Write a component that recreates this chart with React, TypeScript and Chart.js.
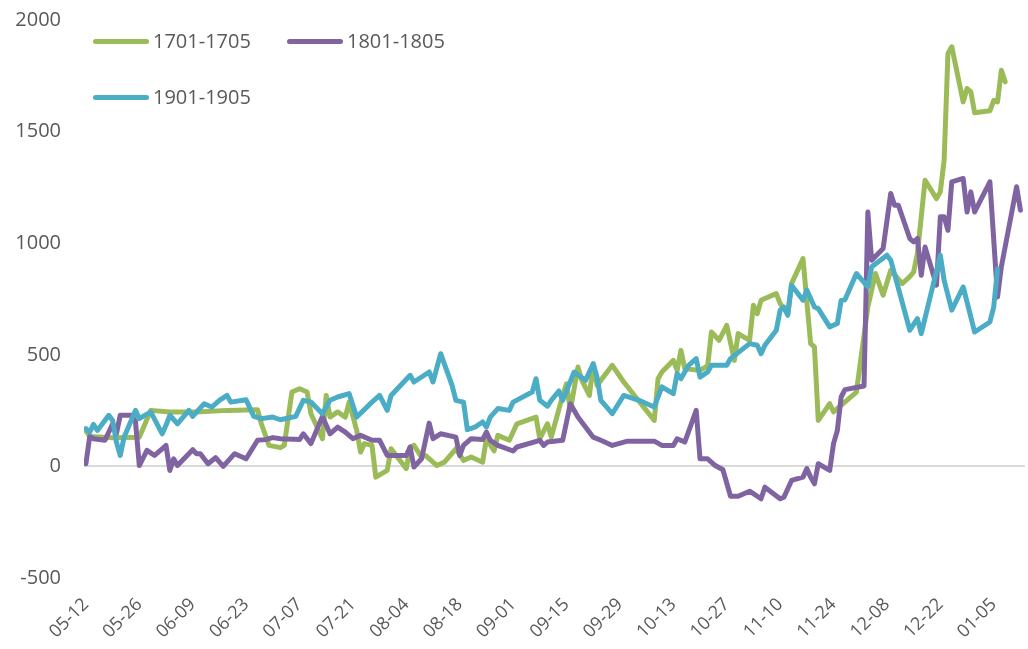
import React, { useEffect, useRef } from 'react';
import { Chart, registerables } from 'chart.js';

Chart.register(...registerables);

// x tick labels, one every 14 days starting at 05-12 (day 0)
const tickLabels = ['05-12', '05-26', '06-09', '06-23', '07-07', '07-21', '08-04', '08-18', '09-01', '09-15', '09-29', '10-13', '10-27', '11-10', '11-24', '12-08', '12-22', '01-05'];
const tickStep = 14;
const xMin = -0.5;
const xMax = 246.2;

const seriesNames = ['1701-1705', '1801-1805', '1901-1905'];
const seriesColors = ['#9BBB59', '#8064A2', '#4BACC6'];

// 1701-1705 (days since 05-12, values)
const s1701Days = [0, 1, 7, 14, 17, 22, 29, 37, 45, 46, 48, 51, 52, 54, 56, 58, 59, 62, 63, 64, 66, 68, 69, 71, 72, 73, 75, 76, 79, 80, 82, 84, 85, 86, 88, 89, 91, 92, 94, 97, 99, 101, 104, 105, 107, 108, 111, 113, 118, 119, 121, 122, 125, 126, 127, 129, 130, 132, 133, 134, 138, 141, 149, 150, 151, 154, 155, 156, 157, 161, 163, 164, 166, 168, 170, 171, 174, 175, 176, 177, 178, 181, 182, 184, 185, 188, 190, 191, 192, 195, 196, 202, 205, 207, 209, 211, 214, 216, 217, 218, 220, 223, 224, 225, 226, 227, 230, 231, 232, 233, 237, 238, 239, 240, 241];
const s1701Values = [161, 134, 128, 131, 251, 244, 244, 251, 254, 191, 94, 84, 94, 333, 348, 333, 236, 124, 318, 221, 244, 221, 288, 161, 64, 102, 94, -48, -18, 79, 34, -10, 87, 94, 42, 49, 19, 4, 19, 79, 27, 42, 19, 124, 70, 139, 117, 191, 221, 124, 191, 131, 318, 370, 251, 445, 386, 318, 460, 363, 453, 378, 206, 393, 423, 475, 430, 520, 438, 430, 450, 602, 565, 632, 475, 595, 565, 722, 684, 744, 752, 774, 730, 684, 819, 931, 550, 535, 206, 281, 244, 333, 714, 864, 767, 879, 819, 850, 871, 954, 1282, 1200, 1230, 1372, 1850, 1880, 1633, 1693, 1678, 1584, 1593, 1640, 1633, 1775, 1723];

// 1801-1805
const s1801Days = [0, 1, 2, 5, 7, 8, 9, 12, 13, 14, 16, 18, 20, 21, 22, 23, 24, 28, 29, 30, 32, 34, 36, 39, 42, 45, 47, 49, 51, 56, 57, 59, 62, 64, 66, 68, 70, 72, 75, 77, 79, 84, 85, 86, 88, 90, 91, 93, 97, 98, 99, 101, 104, 105, 106, 108, 112, 113, 119, 120, 121, 125, 127, 129, 133, 135, 138, 142, 149, 151, 154, 155, 157, 160, 161, 163, 165, 167, 169, 171, 174, 177, 178, 182, 183, 185, 188, 189, 190, 191, 192, 195, 196, 197, 198, 199, 204, 205, 206, 209, 211, 212, 213, 216, 217, 218, 219, 220, 223, 224, 225, 226, 227, 230, 231, 232, 233, 237, 239, 240, 244, 245];
const s1801Values = [12, 134, 124, 117, 190, 146, 229, 229, 200, 4, 72, 49, 79, 94, -18, 34, 4, 75, 57, 57, 12, 39, 0, 57, 34, 117, 120, 129, 124, 120, 146, 102, 224, 146, 176, 154, 124, 139, 117, 117, 49, 49, 87, -3, 34, 194, 124, 146, 131, 49, 94, 124, 120, 154, 117, 94, 69, 87, 117, 94, 109, 117, 281, 221, 131, 117, 94, 113, 113, 94, 94, 124, 109, 251, 34, 34, 4, -15, -134, -134, -111, -145, -93, -145, -138, -63, -48, -10, -48, -78, 12, -18, 102, 161, 311, 344, 360, 1140, 924, 976, 1223, 1170, 1170, 1021, 1006, 1021, 856, 983, 812, 1118, 1118, 1058, 1275, 1290, 1140, 1230, 1140, 1275, 759, 894, 1253, 1148];

// 1901-1905
const s1901Days = [0, 1, 2, 3, 6, 7, 8, 9, 10, 13, 14, 17, 20, 21, 22, 24, 27, 28, 31, 33, 35, 37, 38, 42, 44, 46, 49, 51, 55, 57, 59, 62, 64, 66, 69, 71, 75, 77, 79, 80, 85, 86, 90, 91, 93, 96, 97, 99, 100, 102, 104, 105, 106, 108, 111, 112, 117, 118, 119, 121, 122, 124, 125, 128, 131, 133, 134, 135, 138, 141, 145, 149, 151, 154, 155, 156, 158, 160, 161, 163, 164, 168, 169, 174, 176, 177, 178, 181, 182, 183, 184, 185, 188, 189, 191, 192, 195, 197, 198, 199, 202, 205, 206, 210, 211, 216, 218, 219, 224, 225, 227, 230, 233, 237, 238, 239];
const s1901Values = [169, 154, 188, 161, 229, 206, 109, 49, 131, 251, 214, 244, 146, 184, 229, 191, 251, 224, 281, 266, 296, 318, 288, 299, 224, 214, 221, 209, 224, 296, 288, 236, 296, 311, 326, 221, 288, 318, 251, 318, 408, 378, 423, 378, 505, 363, 296, 288, 165, 176, 199, 176, 221, 259, 251, 288, 333, 393, 296, 270, 296, 338, 296, 423, 386, 460, 400, 296, 236, 318, 296, 266, 356, 326, 416, 393, 453, 483, 400, 423, 453, 453, 483, 550, 543, 505, 543, 610, 700, 714, 677, 812, 744, 790, 714, 707, 625, 640, 744, 747, 864, 804, 894, 946, 924, 610, 662, 595, 946, 834, 700, 804, 602, 647, 714, 886];

const yMin = -500;
const yMax = 2000;
const yStep = 500;

const toPoints = (days: number[], values: number[]) => days.map((d, i) => ({ x: d, y: values[i] }));

const FONT = "'Open Sans', 'Liberation Sans', sans-serif";

export default function App() {
  const canvasRef = useRef<HTMLCanvasElement>(null);

  useEffect(() => {
    if (!canvasRef.current) return;
    const seriesData = [toPoints(s1701Days, s1701Values), toPoints(s1801Days, s1801Values), toPoints(s1901Days, s1901Values)];
    const chart = new Chart(canvasRef.current, {
      type: 'line',
      data: {
        datasets: seriesData.map((pts, i) => ({
          label: seriesNames[i],
          data: pts,
          borderColor: seriesColors[i],
          backgroundColor: seriesColors[i],
          borderWidth: 5,
          pointRadius: 0,
          tension: 0,
          borderJoinStyle: 'round' as const,
          borderCapStyle: 'round' as const,
          fill: false,
          order: 3 - i,
        })),
      },
      options: {
        animation: false,
        responsive: true,
        maintainAspectRatio: false,
        layout: { padding: { top: 20, right: 3, left: 0, bottom: 0 } },
        plugins: { legend: { display: false }, tooltip: { enabled: false } },
        scales: {
          x: {
            type: 'linear',
            min: xMin,
            max: xMax,
            grid: { display: false },
            border: { display: false },
            afterBuildTicks: (scale: any) => {
              scale.ticks = tickLabels.map((_, i) => ({ value: i * tickStep }));
            },
            afterFit: (scale: any) => {
              scale.height = 71;
            },
            ticks: {
              autoSkip: false,
              maxRotation: 45,
              minRotation: 45,
              padding: 8,
              color: '#595959',
              font: { family: FONT, size: 18 },
              callback: (v: any) => tickLabels[Math.round(Number(v) / tickStep)] ?? '',
            },
          },
          y: {
            min: yMin,
            max: yMax,
            border: { display: false },
            afterFit: (scale: any) => {
              scale.width = 84;
            },
            grid: {
              drawTicks: true,
              tickLength: 23,
              tickColor: 'rgba(0,0,0,0)',
              lineWidth: 2,
              color: (c: any) => (c.tick && c.tick.value === 0 ? '#D9D9D9' : 'rgba(0,0,0,0)'),
            },
            ticks: {
              stepSize: yStep,
              padding: 0,
              color: '#595959',
              font: { family: FONT, size: 20 },
              callback: (v: any) => String(v),
            },
          },
        },
      },
    });
    return () => chart.destroy();
  }, []);

  const legendItems = [
    { left: 93, top: 41 },
    { left: 287, top: 41 },
    { left: 93, top: 97 },
  ];

  return (
    <div style={{ position: 'fixed', left: 0, top: 0, width: 1028, height: 649, background: '#fff' }}>
      <canvas ref={canvasRef} />
      {legendItems.map((it, i) => (
        <div key={seriesNames[i]} style={{ position: 'absolute', left: it.left, top: it.top - 14, height: 28, display: 'flex', alignItems: 'center' }}>
          <div style={{ width: 56, height: 5, borderRadius: 3, background: seriesColors[i] }} />
          <span style={{ marginLeft: 4, fontFamily: FONT, fontSize: 20, lineHeight: '28px', color: '#595959' }}>{seriesNames[i]}</span>
        </div>
      ))}
    </div>
  );
}
